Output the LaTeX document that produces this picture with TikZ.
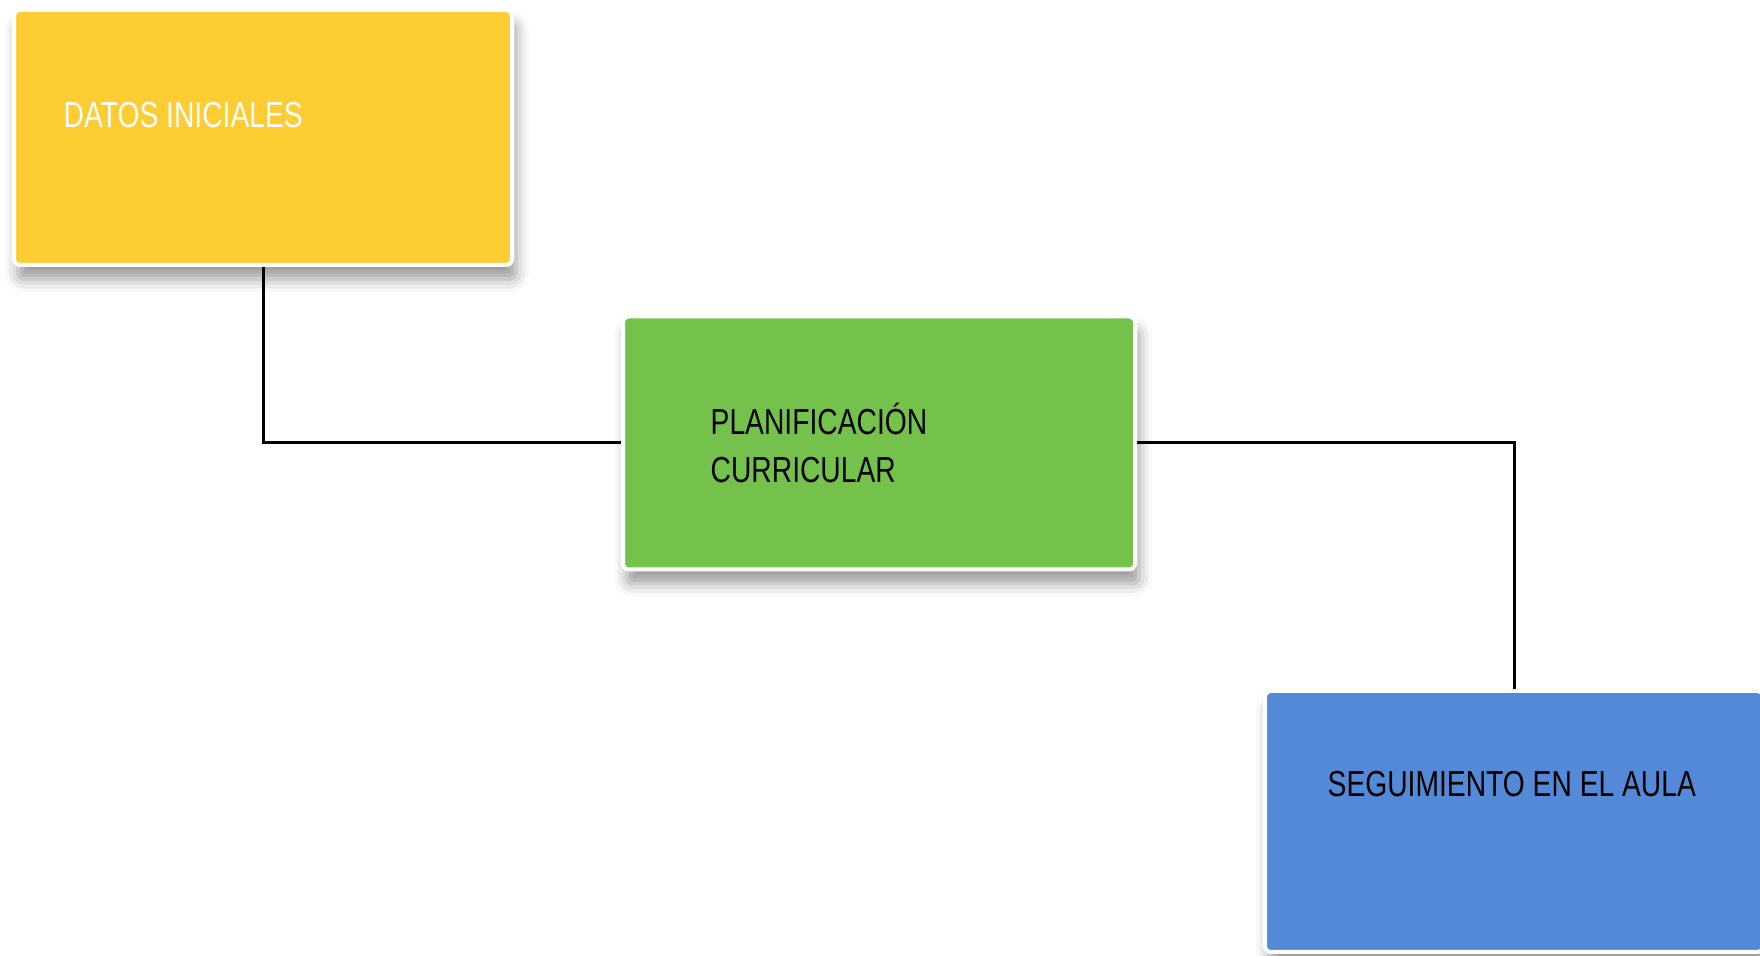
\documentclass[tikz,border=0pt]{standalone}
\usepackage{fontspec}
\newfontfamily\boxfont[FakeStretch=0.78]{Liberation Sans}
\usetikzlibrary{shadows.blur}
\definecolor{datosyellow}{RGB}{254,204,51}
\definecolor{plangreen}{RGB}{116,194,75}
\definecolor{aulablue}{RGB}{83,137,214}
\tikzset{
	box/.style={draw=white, line width=0.04cm, rounded corners=0.06cm, inner sep=0pt,
		blur shadow={shadow xshift=0.04cm, shadow yshift=-0.14cm, shadow blur radius=0.13cm, shadow opacity=40}},
	boxtext/.style={font=\boxfont\fontsize{10.3}{12}\selectfont, anchor=base west, inner sep=0pt},
	link/.style={line width=0.03cm, color=black}
}

\begin{document}
\begin{tikzpicture}
			%%%%% START %%%%%
			
			\useasboundingbox (0, 0) rectangle (17.6, 9.56);
			
			\node[box, fill=datosyellow, minimum width=4.98cm, minimum height=2.55cm] (datos) at (2.63, 8.185) {};
			\node[box, fill=plangreen, minimum width=5.12cm, minimum height=2.53cm] (plan) at (8.79, 5.13) {};
			\node[box, fill=aulablue, minimum width=4.98cm, minimum height=2.61cm] (aula) at (15.14, 1.345) {};
			
			\node[boxtext, color=white] (datosT) at (0.63, 8.28) {DATOS INICIALES};
			\node[boxtext] (planT1) at (7.10, 5.21) {PLANIFICACIÓN};
			\node[boxtext] (planT2) at (7.10, 4.73) {CURRICULAR};
			\node[boxtext] (aulaT) at (13.27, 1.59) {SEGUIMIENTO EN EL AULA};
			
			\draw[link] (datos.south) |- (plan.west);
			\draw[link] (plan.east) -| (aula.north);
			
			%%%%% END %%%%%
		\end{tikzpicture}
\end{document}
